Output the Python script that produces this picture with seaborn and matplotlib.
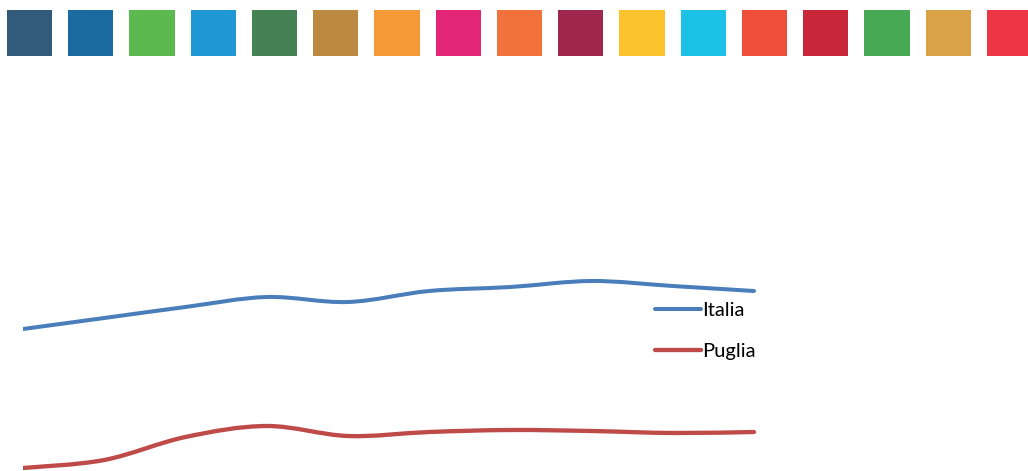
import numpy as np
import pandas as pd
import matplotlib
matplotlib.use("Agg")
import matplotlib.pyplot as plt
import seaborn as sns
from matplotlib.path import Path
from matplotlib.patches import PathPatch
from matplotlib.lines import Line2D

# --- dati -------------------------------------------------------------
anni = [2010, 2011, 2012, 2013, 2014, 2015, 2016, 2017, 2018, 2019]
italia = [57.1, 58.2, 59.3, 60.3, 59.8, 60.9, 61.3, 61.9, 61.4, 60.9]
puglia = [43.2, 44.0, 46.3, 47.4, 46.4, 46.8, 47.0, 46.9, 46.7, 46.8]
territori = ["Italia", "Puglia"]
colori_territori = ["#4A7EBB", "#BE4B48"]

# obiettivi di sviluppo sostenibile (fascia colorata in alto)
goal = [str(g) for g in range(1, 18)]
colori_goal = ["#325A7B", "#1B6BA0", "#5CB94F", "#1E97D4", "#448254",
               "#BB8A40", "#F69A39", "#E32575", "#F3713A", "#9F264D",
               "#FAC22C", "#1DC1E6", "#EF4F3A", "#C72738", "#48A955",
               "#D9A247", "#EC3646"]

# --- stile ------------------------------------------------------------
sns.set_theme(style="white")
plt.rcParams["font.family"] = ["Lato", "DejaVu Sans"]

W, H = 1028, 471
fig = plt.figure(figsize=(W / 100, H / 100), dpi=100)
fig.patch.set_facecolor("white")

# --- fascia dei goal --------------------------------------------------
ax_goal = fig.add_axes([0, (H - 56) / H, 1, 46 / H])
sns.barplot(x=goal, y=[1] * len(goal), hue=goal,
            palette=dict(zip(goal, colori_goal)), legend=False,
            width=0.735, saturation=1, linewidth=0, ax=ax_goal)
passo = 61.25
centro0 = 29.5
ax_goal.set_xlim(-centro0 / passo, (W - centro0) / passo)
ax_goal.set_ylim(0, 1)
ax_goal.axis("off")

# --- serie storiche ---------------------------------------------------
df = pd.DataFrame({
    "anno": anni * 2,
    "valore": italia + puglia,
    "territorio": ["Italia"] * len(anni) + ["Puglia"] * len(anni),
})

x0 = 23
ax = fig.add_axes([x0 / W, 0, 1 - x0 / W, 1])
ax.patch.set_alpha(0)
px_anno = (754 - 23) / 9
ax.set_xlim(anni[0], anni[0] + (W - x0) / px_anno)
ax.set_ylim((900 - H) / 10, 90)

spessori = {"Italia": 2.9, "Puglia": 3.1}
sns.lineplot(data=df, x="anno", y="valore", hue="territorio",
             palette=dict(zip(territori, colori_territori)),
             linewidth=2.9, legend=False, ax=ax)


def percorso_morbido(xs, ys):
    """Curva di Bezier cubica che passa per tutti i punti (linea smussata)."""
    pts = np.column_stack([xs, ys])
    n = len(pts)
    verts = [pts[0]]
    codes = [Path.MOVETO]
    for i in range(n - 1):
        p0 = pts[max(i - 1, 0)]
        p1 = pts[i]
        p2 = pts[i + 1]
        p3 = pts[min(i + 2, n - 1)]
        verts += [p1 + (p2 - p0) / 6, p2 - (p3 - p1) / 6, p2]
        codes += [Path.CURVE4] * 3
    return Path(verts, codes)


for linea, nome in zip(ax.lines, territori):
    xs, ys = linea.get_data()
    patch = PathPatch(percorso_morbido(np.asarray(xs, float), np.asarray(ys, float)),
                      facecolor="none", edgecolor=linea.get_color(),
                      lw=spessori[nome], capstyle="round", joinstyle="round")
    ax.add_patch(patch)
    linea.set_visible(False)

ax.axis("off")

maniglie = [Line2D([], [], color=c, lw=spessori[t], solid_capstyle="round")
            for t, c in zip(territori, colori_territori)]
leg = fig.legend(maniglie, territori, loc="center left",
                 bbox_to_anchor=(655 / W, 1 - 331 / H), bbox_transform=fig.transFigure,
                 frameon=False, fontsize=14.5, handlelength=2.3, handletextpad=0.05,
                 labelspacing=1.2, borderpad=0, borderaxespad=0)
for testo in leg.get_texts():
    testo.set_color("black")

fig.savefig("out.png", dpi=100, facecolor="white")
